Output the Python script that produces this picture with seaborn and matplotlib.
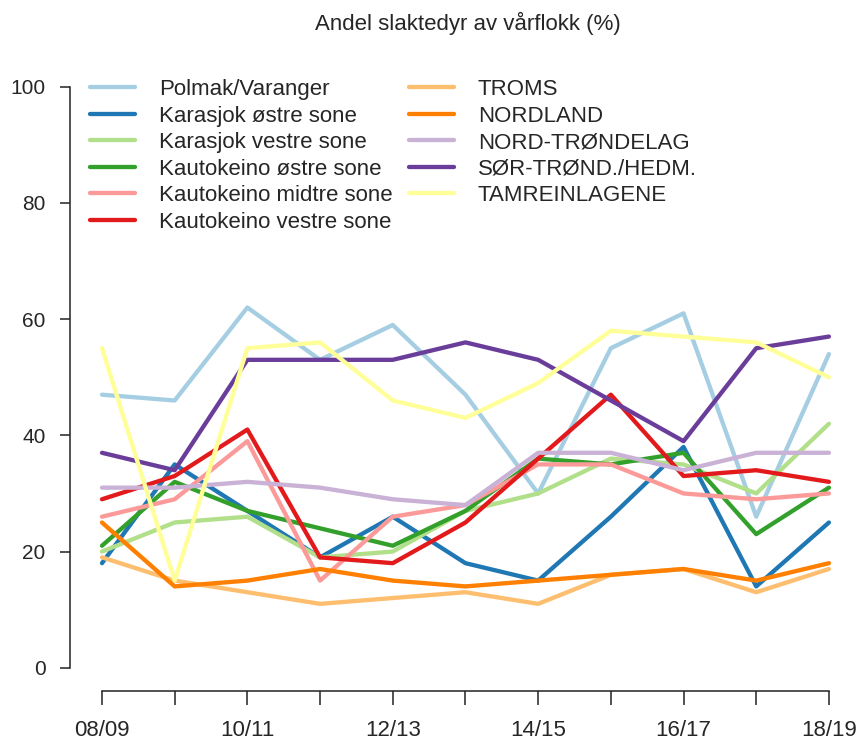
import pandas as pd
import matplotlib
matplotlib.use("Agg")
import matplotlib.pyplot as plt
import seaborn as sns

sns.set_style("ticks")
plt.rcParams["font.family"] = ["Liberation Sans", "DejaVu Sans"]

seasons = ["08/09", "09/10", "10/11", "11/12", "12/13", "13/14",
           "14/15", "15/16", "16/17", "17/18", "18/19"]

names = ["Polmak/Varanger", "Karasjok østre sone", "Karasjok vestre sone",
         "Kautokeino østre sone", "Kautokeino midtre sone", "Kautokeino vestre sone",
         "TROMS", "NORDLAND", "NORD-TRØNDELAG", "SØR-TRØND./HEDM.", "TAMREINLAGENE"]

polmak = [47, 46, 62, 53, 59, 47, 30, 55, 61, 26, 54]
karasjok_ost = [18, 35, 27, 19, 26, 18, 15, 26, 38, 14, 25]
karasjok_vest = [20, 25, 26, 19, 20, 27, 30, 36, 35, 30, 42]
kauto_ost = [21, 32, 27, 24, 21, 27, 36, 35, 37, 23, 31]
kauto_midt = [26, 29, 39, 15, 26, 28, 35, 35, 30, 29, 30]
kauto_vest = [29, 33, 41, 19, 18, 25, 36, 47, 33, 34, 32]
troms = [19, 15, 13, 11, 12, 13, 11, 16, 17, 13, 17]
nordland = [25, 14, 15, 17, 15, 14, 15, 16, 17, 15, 18]
nord_trond = [31, 31, 32, 31, 29, 28, 37, 37, 34, 37, 37]
sor_trond = [37, 34, 53, 53, 53, 56, 53, 46, 39, 55, 57]
tamrein = [55, 15, 55, 56, 46, 43, 49, 58, 57, 56, 50]

series = [polmak, karasjok_ost, karasjok_vest, kauto_ost, kauto_midt, kauto_vest,
          troms, nordland, nord_trond, sor_trond, tamrein]

rows = []
for name, vals in zip(names, series):
    for i, v in enumerate(vals):
        rows.append({"idx": i, "value": v, "area": name})
df = pd.DataFrame(rows)

fig = plt.figure(figsize=(8.6, 7.42), dpi=100)
ax = fig.add_axes([70 / 860, 1 - 691 / 742, (858 - 70) / 860, (691 - 63.5) / 742])

sns.lineplot(data=df, x="idx", y="value", hue="area", hue_order=names,
             palette=sns.color_palette("Paired", 11), linewidth=3.1,
             ax=ax, legend=False)

ax.set_xlim(-0.44, 10.4)
ax.set_ylim(-4, 104)
ax.set_xlabel("")
ax.set_ylabel("")

# every season gets a tick, only every other one a label
ax.set_xticks(range(len(seasons)))
ax.set_xticklabels([s if i % 2 == 0 else "" for i, s in enumerate(seasons)])
ax.set_yticks([0, 20, 40, 60, 80, 100])

for s in ["top", "right"]:
    ax.spines[s].set_visible(False)
ax.spines["left"].set_bounds(0, 100)
ax.spines["bottom"].set_bounds(0, 10)
for s in ["left", "bottom"]:
    ax.spines[s].set_linewidth(1.1)
    ax.spines[s].set_color("#222222")
ax.tick_params(axis="y", length=7.2, width=1.1, pad=10.5, labelsize=15, color="#222222")
ax.tick_params(axis="x", length=10, width=1.1, pad=11, labelsize=16, color="#222222")

fig.text(468 / 860, 1 - 23 / 742, "Andel slaktedyr av vårflokk (%)",
         ha="center", va="center", fontsize=16)

handles = ax.get_lines()[:len(names)]
fig.legend(handles, names, ncol=2, frameon=False, fontsize=16,
           loc="upper left", bbox_to_anchor=(90 / 860, 1 - 79 / 742),
           borderpad=0, borderaxespad=0, handlelength=2.03,
           handletextpad=1.08, labelspacing=0.25, columnspacing=0.72)

fig.savefig("out.png", dpi=100)
